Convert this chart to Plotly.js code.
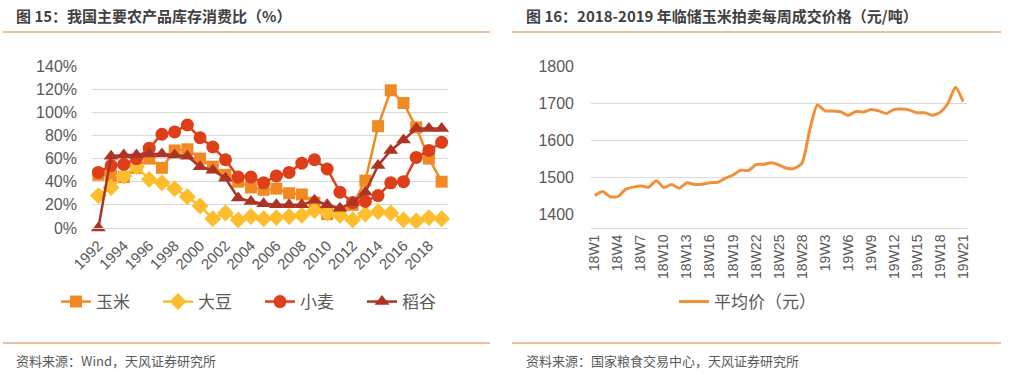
<!DOCTYPE html>
<html>
<head>
<meta charset="utf-8">
<script src="https://cdn.plot.ly/plotly-3.0.1.min.js"></script>
<style>
html,body{margin:0;padding:0;background:#fff;}
#chart{width:1013px;height:375px;}
</style>
</head>
<body>
<div id="chart"></div>
<script>
// ---- Left chart data: stock-to-use ratio (%) ----
const years = [1992,1993,1994,1995,1996,1997,1998,1999,2000,2001,2002,2003,2004,2005,2006,2007,2008,2009,2010,2011,2012,2013,2014,2015,2016,2017,2018,2019];
const corn    = [46,45,44,52,60,52,67,68,60,53,46,40,35,33,34,30,29,22,12,14,20,41,88,119,108,87,60,40];
const soybean = [28,35,45,53,42,39,34,27,19,8,13,7,10,8,9,10,11,15,13,11,7,12,14,13,7,6,9,8];
const wheat   = [48,54,55,60,69,81,83,89,78,70,59,44,44,39,45,48,56,59,51,31,22,23,28,39,40,61,67,74];
const rice    = [0,62,63,63,64,64,63,62,53,50,43,26,23,21,20,20,20,24,20,17,22,31,54,67,76,86,86,86];
const leftNames = ['玉米','大豆','小麦','稻谷'];
const leftTickYears = [1992,1994,1996,1998,2000,2002,2004,2006,2008,2010,2012,2014,2016,2018];
const leftYTicks = [0,20,40,60,80,100,120,140];

// ---- Right chart data: weekly auction price (yuan/ton) ----
const weeks = [];
for (let w = 1; w <= 28; w++) weeks.push('18W' + w);
for (let w = 1; w <= 21; w++) weeks.push('19W' + w);
const price = [1450,1461,1447,1447,1467,1473,1476,1473,1490,1472,1480,1470,1485,1480,1481,1485,1486,1497,1506,1519,1518,1534,1535,1539,1533,1524,1524,1538,
               1628,1696,1680,1680,1678,1668,1678,1677,1684,1680,1673,1684,1685,1682,1675,1675,1668,1676,1700,1744,1705];
const rightTickLabels = ['18W1','18W4','18W7','18W10','18W13','18W16','18W19','18W22','18W25','18W28','19W3','19W6','19W9','19W12','19W15','19W18','19W21'];
const rightYTicks = [1400,1500,1600,1700,1800];
const rightName = '平均价（元）';

const colors = {corn:'#F28A24', soy:'#FDBD2C', wheat:'#DE3F18', rice:'#AD3424', price:'#F0903A'};
const latin = 'Liberation Sans, Arial, sans-serif';
const tickFont = {family:latin, size:16, color:'#595959'};
const cjk = 'Noto Sans CJK SC, sans-serif';

function series(y, name, color, symbol, size) {
  return {x: years, y: y, name: name, type:'scatter', mode:'lines+markers',
    line:{color:color, width:2.5}, marker:{color:color, symbol:symbol, size:size},
    xaxis:'x', yaxis:'y', cliponaxis:false, legend:'legend'};
}
const traces = [
  series(corn, leftNames[0], colors.corn, 'square', 12),
  series(soybean, leftNames[1], colors.soy, 'diamond', 13),
  series(wheat, leftNames[2], colors.wheat, 'circle', 13),
  series(rice, leftNames[3], colors.rice, 'triangle-up', 13),
  {x: weeks, y: price, name: rightName, type:'scatter', mode:'lines',
   line:{color:colors.price, width:3, shape:'spline', smoothing:0.6},
   xaxis:'x2', yaxis:'y2', legend:'legend2'}
];

const W = 1013, H = 375;
const px = v => v / W, py = v => 1 - v / H;

const layout = {
  width: W, height: H, margin:{l:0,r:0,t:0,b:0},
  paper_bgcolor:'#fff', plot_bgcolor:'#fff',
  font:{family: cjk, color:'#595959'},
  xaxis:{domain:[px(92), px(448)], range:[1991.5, 2019.5], tickmode:'array',
    tickvals: leftTickYears, ticktext: leftTickYears.map(String), tickangle:-45,
    tickfont:{family:latin, size:15, color:'#595959'},
    showgrid:false, showline:true, linecolor:'#D9D9D9', linewidth:1,
    zeroline:false, ticks:'', ticklabelstandoff:2, fixedrange:true},
  yaxis:{domain:[py(228), py(66)], range:[0,140], tickmode:'array', tickvals:leftYTicks,
    ticktext: leftYTicks.map(v => v + '%'), tickfont:tickFont, gridcolor:'#D9D9D9', gridwidth:1,
    zeroline:false, showline:false, ticks:'', ticklabelstandoff:14, fixedrange:true},
  xaxis2:{domain:[px(591), px(967)], range:[-0.5, 48.5], type:'category',
    tickmode:'array', tickvals: rightTickLabels, ticktext: rightTickLabels, tickangle:-90,
    tickfont:{family:latin, size:14, color:'#595959'},
    showgrid:false, showline:true, linecolor:'#D9D9D9', linewidth:1, ticks:'', fixedrange:true},
  yaxis2:{domain:[py(214), py(66.7)], range:[1400,1800], tickmode:'array', tickvals:rightYTicks,
    ticktext: rightYTicks.map(String),
    tickfont:tickFont, gridcolor:'#D9D9D9', gridwidth:1, zeroline:false, showline:false,
    ticks:'', ticklabelstandoff:16, anchor:'x2', fixedrange:true},
  showlegend:true,
  legend:{orientation:'h', x:px(56), y:py(302), xanchor:'left', yanchor:'middle',
    font:{family:cjk, size:17, color:'#595959'}, entrywidth:57, entrywidthmode:'pixels',
    bgcolor:'rgba(0,0,0,0)'},
  legend2:{orientation:'h', x:px(674), y:py(302), xanchor:'left', yanchor:'middle',
    font:{family:cjk, size:17, color:'#595959'}, bgcolor:'rgba(0,0,0,0)'},
  shapes:[
    {type:'line', xref:'paper', yref:'paper', x0:px(3), x1:px(490), y0:py(32), y1:py(32), line:{color:'#EBA878', width:1.5}},
    {type:'line', xref:'paper', yref:'paper', x0:px(512), x1:px(1001), y0:py(32), y1:py(32), line:{color:'#EBA878', width:1.5}},
    {type:'line', xref:'paper', yref:'paper', x0:px(3), x1:px(490), y0:py(343), y1:py(343), line:{color:'#EBA878', width:1.5}},
    {type:'line', xref:'paper', yref:'paper', x0:px(512), x1:px(1001), y0:py(343), y1:py(343), line:{color:'#EBA878', width:1.5}}
  ],
  annotations:[
    {text:'<b>图 15：我国主要农产品库存消费比（%）</b>', xref:'paper', yref:'paper', x:px(14), y:py(16),
     xanchor:'left', yanchor:'middle', showarrow:false, font:{family:cjk, size:15, color:'#404040'}},
    {text:'<b>图 16：2018-2019 年临储玉米拍卖每周成交价格（元/吨）</b>', xref:'paper', yref:'paper', x:px(524), y:py(16),
     xanchor:'left', yanchor:'middle', showarrow:false, font:{family:cjk, size:15, color:'#404040'}},
    {text:'资料来源：Wind，天风证券研究所', xref:'paper', yref:'paper', x:px(14), y:py(360),
     xanchor:'left', yanchor:'middle', showarrow:false, font:{family:cjk, size:13, color:'#595959'}},
    {text:'资料来源：国家粮食交易中心，天风证券研究所', xref:'paper', yref:'paper', x:px(524), y:py(360),
     xanchor:'left', yanchor:'middle', showarrow:false, font:{family:cjk, size:13, color:'#595959'}}
  ]
};

Plotly.newPlot('chart', traces, layout, {displayModeBar:false, staticPlot:true});
</script>
</body>
</html>
